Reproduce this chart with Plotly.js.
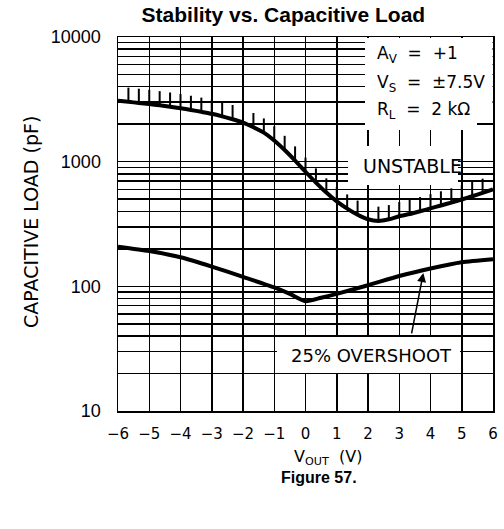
<!DOCTYPE html>
<html>
<head>
<meta charset="utf-8">
<script src="https://cdn.plot.ly/plotly-3.0.1.min.js"></script>
<style>html,body{margin:0;padding:0;background:#fff;}#chart{width:504px;height:529px;}</style>
</head>
<body>
<div id="chart"></div>
<script>
// Unstable boundary (upper curve), sampled every 1/3 V
var vBoundary = [-6.000,-5.667,-5.333,-5.000,-4.667,-4.333,-4.000,-3.667,-3.333,-3.000,-2.667,-2.333,-2.000,-1.667,-1.333,-1.000,-0.667,-0.333,0.000,0.333,0.667,1.000,1.333,1.667,2.000,2.333,2.667,3.000,3.333,3.667,4.000,4.333,4.667,5.000,5.333,5.667,6.000];
var cBoundary = [3080,3020,2960,2900,2830,2760,2680,2600,2510,2420,2310,2190,2060,1890,1710,1480,1240,1020,830,680,565,480,420,375,345,335,345,365,380,400,422,445,470,497,528,562,600];

// 25% overshoot curve
var vOvershoot = [-6,-5,-4,-3,-2,-1,-0.5,0,0.5,1,2,3,4,5,6];
var cOvershoot = [208,192,171,144,119,98,87,76,81,87,102,121,139,156,165];

// Axis tick labels
var xTickVals = [-6,-5,-4,-3,-2,-1,0,1,2,3,4,5,6];
var yDecades = [10,100,1000,10000];
var yDecadeLabels = ['10','100','1000','10000'];

// build log grid tick positions (decades + 2..9 multiples)
var yTickVals = [], yTickText = [];
for (var d = 0; d < yDecades.length; d++) {
  yTickVals.push(yDecades[d]); yTickText.push(yDecadeLabels[d]);
  if (d < yDecades.length - 1) {
    for (var m = 2; m <= 9; m++) { yTickVals.push(yDecades[d]*m); yTickText.push(''); }
  }
}

// hatch marks above the unstable boundary
var hx = [], hy = [];
for (var i = 1; i < vBoundary.length - 1; i++) {
  hx.push(vBoundary[i], vBoundary[i], null);
  hy.push(cBoundary[i], cBoundary[i]*1.3, null);
}

var techFont = 'DejaVu Sans, sans-serif';
var armFont = 'Liberation Sans, Arial, sans-serif';
var traces = [
  {x: hx, y: hy, mode: 'lines', line: {color: '#000', width: 2}, hoverinfo: 'skip'},
  {x: vBoundary, y: cBoundary, mode: 'lines', line: {color: '#000', width: 4, shape: 'spline', smoothing: 0.6}},
  {x: vOvershoot, y: cOvershoot, mode: 'lines', line: {color: '#000', width: 4, shape: 'spline', smoothing: 0.6}}
];

function px2x(p){ return (p-118)/375; }
function px2y(p){ return (411-p)/374; }

var whiteRect = function(x0,x1,y0,y1){
  return {type:'rect', xref:'paper', yref:'paper', x0:px2x(x0), x1:px2x(x1), y0:px2y(y1), y1:px2y(y0),
          fillcolor:'#fff', line:{width:0}, layer:'above'};
};
var sp = '\u00a0\u00a0';

var layout = {
  width: 504, height: 529,
  margin: {l: 118, r: 11, t: 37, b: 118},
  paper_bgcolor: '#fff', plot_bgcolor: '#fff',
  showlegend: false, hovermode: false,
  title: {text: 'Stability vs. Capacitive Load', x: 0.441, xref: 'paper', xanchor: 'center',
          y: 1 - 15/529, yref: 'container', yanchor: 'middle',
          font: {family: armFont, size: 21, weight: 'bold', color: '#000'}},
  xaxis: {range: [-6, 6], tickvals: xTickVals, showgrid: true, gridcolor: '#000', gridwidth: 1.5,
          zeroline: false, showline: true, linecolor: '#000', linewidth: 1.5, mirror: true,
          ticks: '', 
          tickfont: {family: techFont, size: 15, color: '#000'}, ticklabelstandoff: 8},
  yaxis: {type: 'log', range: [1, 4], tickvals: yTickVals, ticktext: yTickText, showgrid: true,
          gridcolor: '#000', gridwidth: 1.5, zeroline: false, showline: true, linecolor: '#000',
          linewidth: 1.5, mirror: true, ticks: '',
          tickfont: {family: armFont, size: 18, color: '#000'}, ticklabelstandoff: 12},
  shapes: [
    whiteRect(365, 492.5, 38, 121),
    whiteRect(365, 477, 121, 130),
    whiteRect(348, 458, 146, 185),
    whiteRect(277, 460, 337, 373)
  ],
  annotations: [
    {text: 'A<sub>V</sub>' + sp + '=' + sp + '+1', xref: 'paper', yref: 'paper', x: px2x(375), y: px2y(55), xanchor: 'left', yanchor: 'middle', showarrow: false, font: {family: techFont, size: 17, color: '#000'}},
    {text: 'V<sub>S</sub>' + sp + '=' + sp + '±7.5V', xref: 'paper', yref: 'paper', x: px2x(375), y: px2y(83), xanchor: 'left', yanchor: 'middle', showarrow: false, font: {family: techFont, size: 17, color: '#000'}},
    {text: 'R<sub>L</sub>' + sp + '=' + sp + '2 kΩ', xref: 'paper', yref: 'paper', x: px2x(375), y: px2y(110), xanchor: 'left', yanchor: 'middle', showarrow: false, font: {family: techFont, size: 17, color: '#000'}},
    {text: 'UNSTABLE', xref: 'paper', yref: 'paper', x: px2x(412), y: px2y(166), xanchor: 'center', yanchor: 'middle', showarrow: false, font: {family: techFont, size: 19, color: '#000'}},
    {text: '25% OVERSHOOT', xref: 'paper', yref: 'paper', x: px2x(371), y: px2y(355), xanchor: 'center', yanchor: 'middle', showarrow: false, font: {family: techFont, size: 18, color: '#000'}},
    {text: '', x: 3.77, y: Math.log10(128), xref: 'x', yref: 'y', showarrow: true, arrowhead: 2, arrowsize: 1.2, arrowwidth: 1.5, arrowcolor: '#000', ax: -12, ay: 62},
    {text: 'CAPACITIVE LOAD (pF)', xref: 'paper', yref: 'paper', x: px2x(31), y: px2y(222), textangle: -90, xanchor: 'center', yanchor: 'middle', showarrow: false, font: {family: techFont, size: 19, color: '#000'}},
    {text: 'V<sub>OUT</sub>' + sp + '(V)', xref: 'paper', yref: 'paper', x: px2x(328), y: px2y(457), xanchor: 'center', yanchor: 'middle', showarrow: false, font: {family: techFont, size: 16, color: '#000'}},
    {text: 'Figure 57.', xref: 'paper', yref: 'paper', x: px2x(319), y: px2y(477), xanchor: 'center', yanchor: 'middle', showarrow: false, font: {family: armFont, size: 16, weight: 'bold', color: '#000'}}
  ]
};

Plotly.newPlot('chart', traces, layout, {staticPlot: true, displayModeBar: false});
</script>
</body>
</html>
